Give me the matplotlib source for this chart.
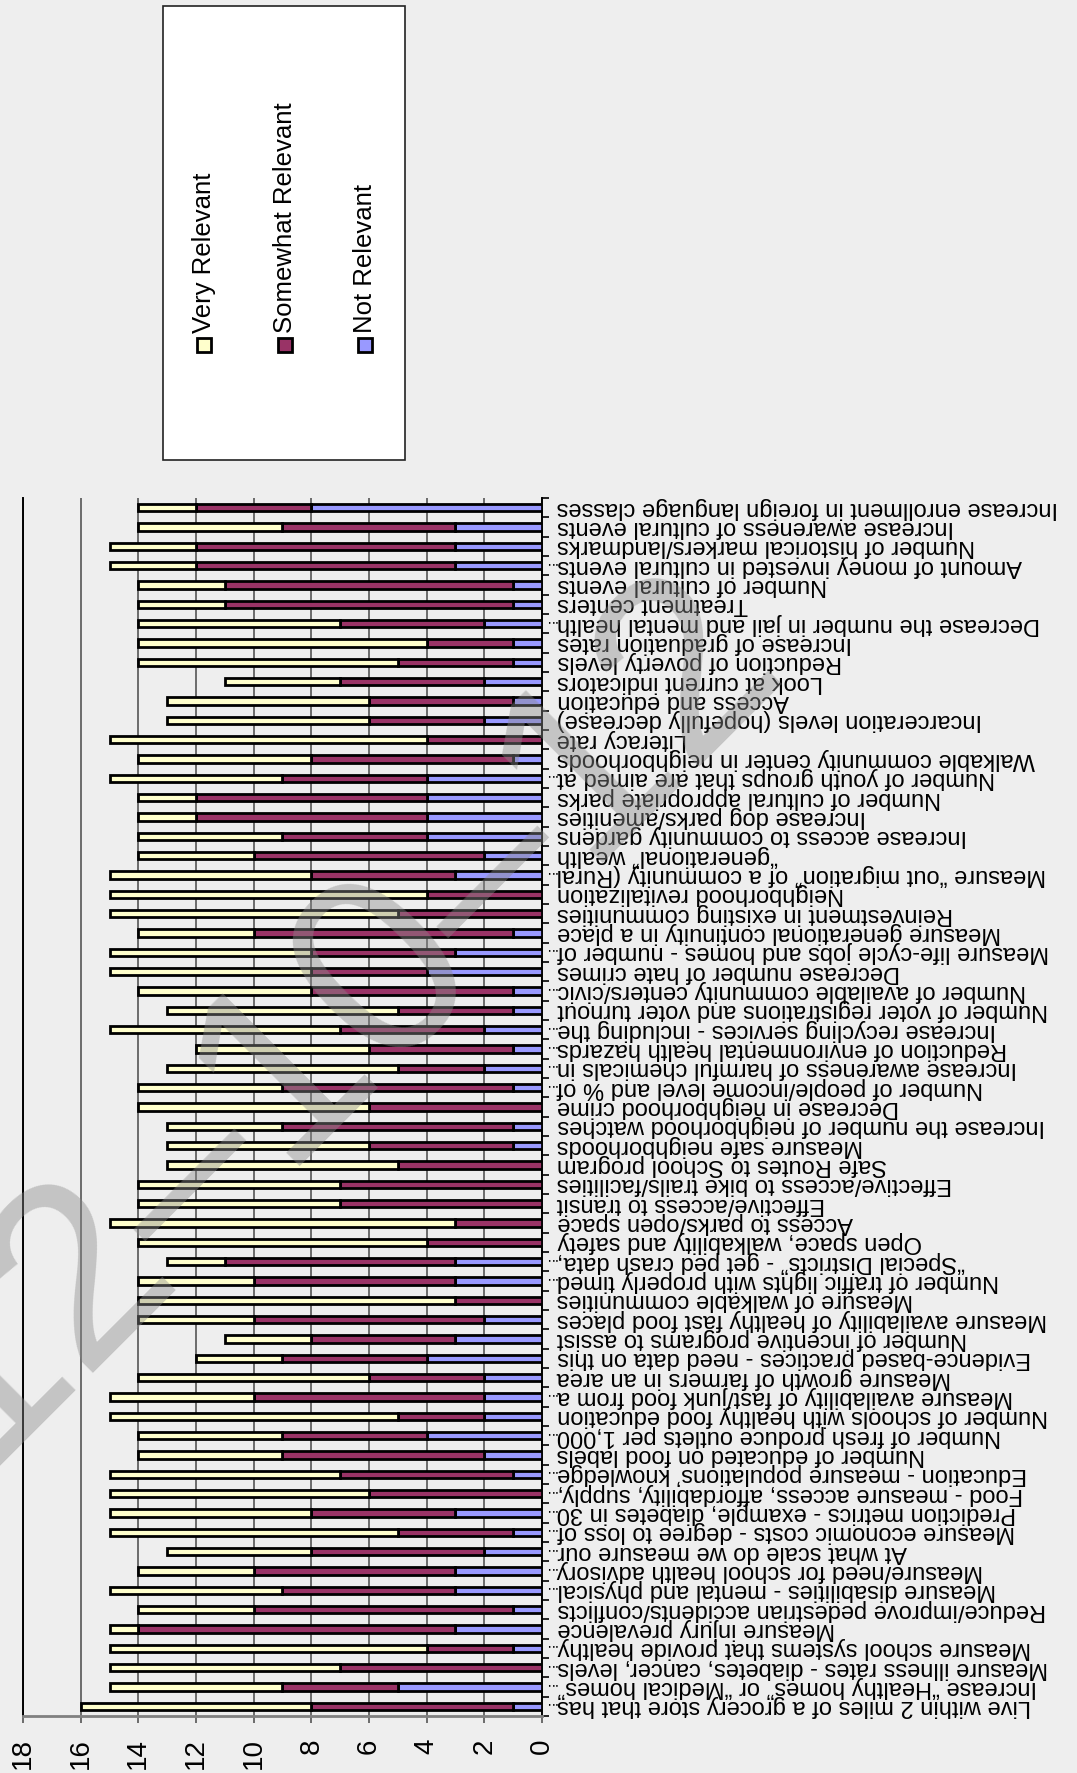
import matplotlib
matplotlib.use("Agg")
import matplotlib.pyplot as plt
from matplotlib.patches import Rectangle
from matplotlib.transforms import blended_transform_factory, offset_copy
import numpy as np

plt.rcParams['font.family'] = ['Liberation Sans', 'DejaVu Sans']

# categories, bottom to top
categories = [
    "Live within 2 miles of a grocery store that has...",
    "Increase “Healthy homes” or “Medical homes”...",
    "Measure illness rates - diabetes, cancer, levels...",
    "Measure school systems that provide healthy...",
    "Measure injury prevalence",
    "Reduce/improve pedestrian accidents/conflicts",
    "Measure disabilities - mental and physical...",
    "Measure/need for school health advisory...",
    "At what scale do we measure our...",
    "Measure economic costs - degree to loss of...",
    "Prediction metrics - example, diabetes in 30...",
    "Food - measure access, affordability, supply,...",
    "Education - measure populations’ knowledge...",
    "Number of educated on food labels",
    "Number of fresh produce outlets per 1,000...",
    "Number of schools with healthy food education",
    "Measure availability of fast/junk food from a...",
    "Measure growth of farmers in an area",
    "Evidence-based practices - need data on this",
    "Number of incentive programs to assist",
    "Measure availability of healthy fast food places",
    "Measure of walkable communities",
    "Number of traffic lights with properly timed...",
    "“Special Districts” - get ped crash data,...",
    "Open space, walkability and safety",
    "Access to parks/open space",
    "Effective/access to transit",
    "Effective/access to bike trails/facilities",
    "Safe Routes to School program",
    "Measure safe neighborhoods",
    "Increase the number of neighborhood watches",
    "Decrease in neighborhood crime",
    "Number of people/income level and % of...",
    "Increase awareness of harmful chemicals in...",
    "Reduction of environmental health hazards...",
    "Increase recycling services - including the...",
    "Number of voter registrations and voter turnout",
    "Number of available community centers/civic...",
    "Decrease number of hate crimes",
    "Measure life-cycle jobs and homes - number of...",
    "Measure generational continuity in a place",
    "Reinvestment in existing communities",
    "Neighborhood revitalization",
    "Measure “out migration” of a community (Rural...",
    "“generational” wealth",
    "Increase access to community gardens",
    "Increase dog parks/amenities",
    "Number of cultural appropriate parks",
    "Number of youth groups that are aimed at...",
    "Walkable community center in neighborhoods",
    "Literacy rate",
    "Incarceration levels (hopefully decrease)",
    "Access and education",
    "Look at current indicators",
    "Reduction of poverty levels",
    "Increase of graduation rates",
    "Decrease the number in jail and mental health...",
    "Treatment centers",
    "Number of cultural events",
    "Amount of money invested in cultural events...",
    "Number of historical markers/landmarks",
    "Increase awareness of cultural events",
    "Increase enrollment in foreign language classes",
]

not_relevant = [1, 5, 0, 1, 3, 1, 3, 3, 2, 1, 3, 0, 1, 2, 4, 2, 2, 2, 4, 3, 2,
                0, 3, 3, 0, 0, 0, 0, 0, 1, 1, 0, 1, 2, 1, 2, 1, 1, 4, 3, 1, 0,
                0, 3, 2, 4, 4, 4, 4, 1, 0, 2, 1, 2, 1, 1, 2, 1, 1, 3, 3, 3, 8]
somewhat_relevant = [7, 4, 7, 3, 11, 9, 6, 7, 6, 4, 5, 6, 6, 7, 5, 3, 8, 4, 5, 5, 8,
                     3, 7, 8, 4, 3, 7, 7, 5, 5, 8, 6, 8, 3, 5, 5, 4, 7, 4, 5, 9, 5,
                     4, 5, 8, 5, 8, 8, 5, 7, 4, 4, 5, 5, 4, 3, 5, 10, 10, 9, 9, 6, 4]
very_relevant = [8, 6, 8, 11, 1, 4, 6, 4, 5, 10, 7, 9, 8, 5, 5, 10, 5, 8, 3, 3, 4,
                 11, 4, 2, 10, 12, 7, 7, 8, 7, 4, 8, 5, 8, 6, 8, 8, 6, 7, 7, 4, 10,
                 11, 7, 4, 5, 2, 2, 6, 6, 11, 7, 7, 4, 9, 10, 7, 3, 3, 3, 3, 5, 2]

series_names = ["Very Relevant", "Somewhat Relevant", "Not Relevant"]
series_colors = ["#FFFFCC", "#993366", "#9999FF"]

bg = "#EEEEEE"
fig = plt.figure(figsize=(10.77, 17.73), dpi=100, facecolor=bg)
ax = fig.add_axes([0.0214, 0.0321, 0.4817, 0.687], facecolor=bg)

y = np.arange(len(categories))
nr = np.array(not_relevant)
sr = np.array(somewhat_relevant)
vr = np.array(very_relevant)

h = 0.38
lw = 2.0
ax.barh(y, nr, height=h, color=series_colors[2], edgecolor="black", linewidth=lw, zorder=3)
ax.barh(y, sr, left=nr, height=h, color=series_colors[1], edgecolor="black", linewidth=lw, zorder=3)
ax.barh(y, vr, left=nr + sr, height=h, color=series_colors[0], edgecolor="black", linewidth=lw, zorder=3)

ax.set_xlim(18, 0)
ax.set_ylim(-0.5, len(categories) - 0.5)
ax.set_xticks(np.arange(0, 19, 2))
ax.set_xticklabels([str(v) for v in range(0, 19, 2)], rotation=90, fontsize=20)
ax.tick_params(axis="x", direction="out", length=5, width=1.2, color="#555555", pad=11)
ax.grid(axis="x", color="#555555", linewidth=1.2, zorder=1)

# truncated labels: the dots sit small, right against the axis
short = [c[:-3] if c.endswith("...") else c for c in categories]
ax.yaxis.tick_right()
ax.set_yticks(y)
ax.set_yticklabels(short, fontsize=17, rotation=180, ha="left", va="center")
ax.set_yticks(np.arange(-0.5, len(categories), 1), minor=True)
ax.tick_params(axis="y", which="major", length=0, pad=11)
ax.tick_params(axis="y", which="minor", length=5, width=1.2, color="black", direction="out")

dot_tr = offset_copy(blended_transform_factory(ax.transAxes, ax.transData),
                     fig=fig, x=1.5, y=0, units="points")
for yi, c in zip(y, categories):
    if c.endswith("..."):
        ax.text(1.0, yi, "...", transform=dot_tr, rotation=180, fontsize=11,
                ha="left", va="center", clip_on=False)

ax.spines["top"].set_visible(False)
ax.spines["left"].set_color("black")
ax.spines["left"].set_linewidth(1.4)
ax.spines["right"].set_color("black")
ax.spines["right"].set_linewidth(1.4)
ax.spines["bottom"].set_color("#808080")
ax.spines["bottom"].set_linewidth(2)

# legend box, drawn by hand so the labels can stand on end
W, H = 1077.0, 1773.0
fig.patches.append(Rectangle((163 / W, 1 - 460 / H), 242 / W, 454 / H,
                             transform=fig.transFigure, facecolor="white",
                             edgecolor="#222222", linewidth=1.2))
leg_x = [204, 284.5, 365]
for xp, name, col in zip(leg_x, series_names, series_colors):
    fig.patches.append(Rectangle(((xp - 7) / W, 1 - 352 / H), 14 / W, 14 / H,
                                 transform=fig.transFigure, facecolor=col,
                                 edgecolor="black", linewidth=2))
    fig.text(xp / W, 1 - 333 / H, name, rotation=90, ha="center", va="bottom",
             fontsize=18.5)

# faint watermark over the plot
fig.text(0.311, 0.4264, "12–10–12", rotation=45, rotation_mode="anchor",
         fontsize=185, color="#8a8a8a", alpha=0.42, ha="center", va="center",
         zorder=10)

fig.savefig("out.png", dpi=100, facecolor=bg)
